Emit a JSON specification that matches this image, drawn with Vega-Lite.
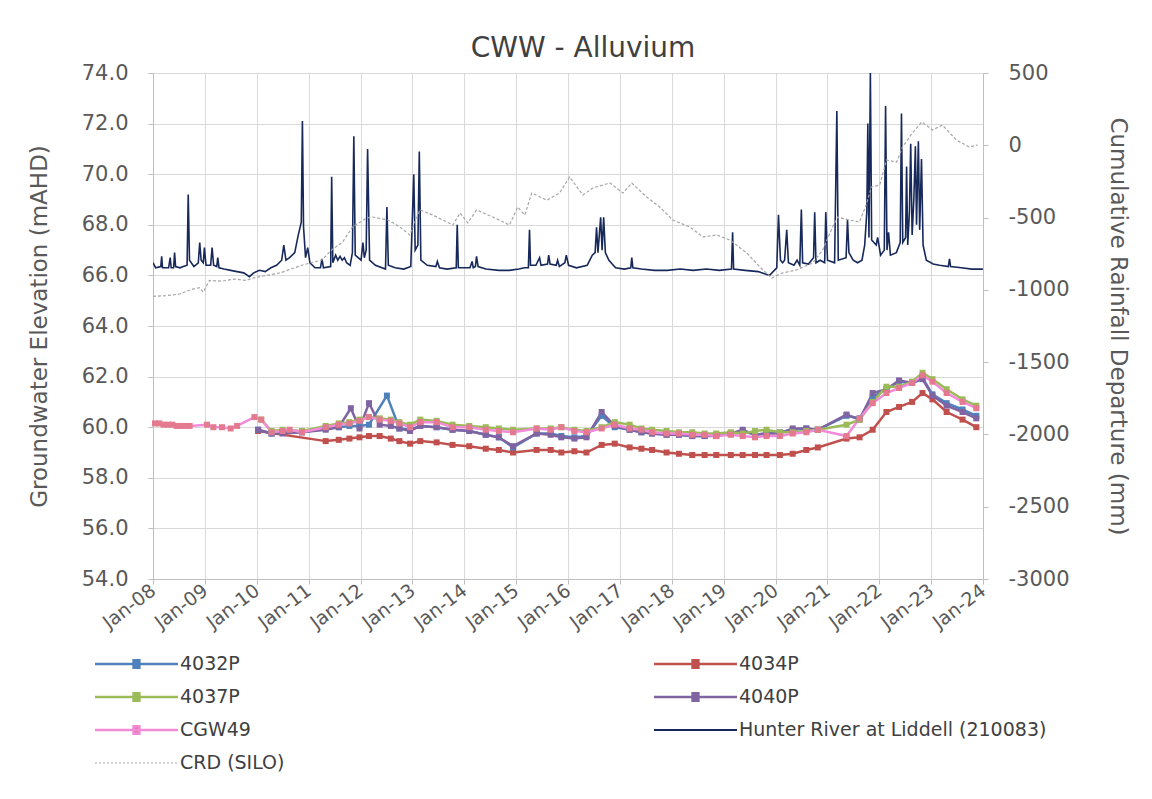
{
 "$schema": "https://vega.github.io/schema/vega-lite/v6.json",
 "width": 830,
 "height": 506,
 "autosize": {"type": "none"},
 "padding": {"left": 153, "top": 73, "right": 169, "bottom": 220},
 "background": "white",
 "title": {"text": "CWW - Alluvium", "font": "DejaVu Sans", "fontSize": 28, "fontWeight": "normal", "color": "#404040", "offset": -1, "dx": 15, "anchor": "middle"},
 "config": {
  "view": {"stroke": null},
  "axis": {"labelFont": "DejaVu Sans", "titleFont": "DejaVu Sans", "labelColor": "#595959", "titleColor": "#595959", "titleFontWeight": "normal", "domainColor": "#bfbfbf", "tickColor": "#bfbfbf", "gridColor": "#d9d9d9", "gridWidth": 1, "tickSize": 5}
 },
 "datasets": {
  "river": [
   {"series":"Hunter River at Liddell (210083)","date":"2008-01-01","value":66.5},
   {"series":"Hunter River at Liddell (210083)","date":"2008-01-20","value":66.3},
   {"series":"Hunter River at Liddell (210083)","date":"2008-02-25","value":66.35},
   {"series":"Hunter River at Liddell (210083)","date":"2008-03-02","value":66.75},
   {"series":"Hunter River at Liddell (210083)","date":"2008-03-08","value":66.3},
   {"series":"Hunter River at Liddell (210083)","date":"2008-04-20","value":66.3},
   {"series":"Hunter River at Liddell (210083)","date":"2008-05-01","value":66.7},
   {"series":"Hunter River at Liddell (210083)","date":"2008-05-08","value":66.3},
   {"series":"Hunter River at Liddell (210083)","date":"2008-05-25","value":66.3},
   {"series":"Hunter River at Liddell (210083)","date":"2008-06-01","value":66.9},
   {"series":"Hunter River at Liddell (210083)","date":"2008-06-08","value":66.35},
   {"series":"Hunter River at Liddell (210083)","date":"2008-07-10","value":66.3},
   {"series":"Hunter River at Liddell (210083)","date":"2008-08-01","value":66.35},
   {"series":"Hunter River at Liddell (210083)","date":"2008-08-28","value":66.4},
   {"series":"Hunter River at Liddell (210083)","date":"2008-09-05","value":69.2},
   {"series":"Hunter River at Liddell (210083)","date":"2008-09-14","value":66.6},
   {"series":"Hunter River at Liddell (210083)","date":"2008-10-15","value":66.35},
   {"series":"Hunter River at Liddell (210083)","date":"2008-11-15","value":66.5},
   {"series":"Hunter River at Liddell (210083)","date":"2008-11-25","value":67.3},
   {"series":"Hunter River at Liddell (210083)","date":"2008-12-05","value":66.6},
   {"series":"Hunter River at Liddell (210083)","date":"2008-12-20","value":66.5},
   {"series":"Hunter River at Liddell (210083)","date":"2008-12-28","value":67.1},
   {"series":"Hunter River at Liddell (210083)","date":"2009-01-08","value":66.4},
   {"series":"Hunter River at Liddell (210083)","date":"2009-02-10","value":66.4},
   {"series":"Hunter River at Liddell (210083)","date":"2009-02-20","value":67.1},
   {"series":"Hunter River at Liddell (210083)","date":"2009-03-03","value":66.4},
   {"series":"Hunter River at Liddell (210083)","date":"2009-03-25","value":66.35},
   {"series":"Hunter River at Liddell (210083)","date":"2009-04-01","value":66.7},
   {"series":"Hunter River at Liddell (210083)","date":"2009-04-10","value":66.3},
   {"series":"Hunter River at Liddell (210083)","date":"2009-05-15","value":66.25},
   {"series":"Hunter River at Liddell (210083)","date":"2009-07-01","value":66.2},
   {"series":"Hunter River at Liddell (210083)","date":"2009-08-15","value":66.15},
   {"series":"Hunter River at Liddell (210083)","date":"2009-10-01","value":66.1},
   {"series":"Hunter River at Liddell (210083)","date":"2009-11-10","value":65.95},
   {"series":"Hunter River at Liddell (210083)","date":"2009-12-10","value":66.1},
   {"series":"Hunter River at Liddell (210083)","date":"2010-01-20","value":66.2},
   {"series":"Hunter River at Liddell (210083)","date":"2010-03-01","value":66.15},
   {"series":"Hunter River at Liddell (210083)","date":"2010-04-10","value":66.3},
   {"series":"Hunter River at Liddell (210083)","date":"2010-05-20","value":66.4},
   {"series":"Hunter River at Liddell (210083)","date":"2010-06-25","value":66.6},
   {"series":"Hunter River at Liddell (210083)","date":"2010-07-10","value":67.2},
   {"series":"Hunter River at Liddell (210083)","date":"2010-07-25","value":66.6},
   {"series":"Hunter River at Liddell (210083)","date":"2010-08-20","value":66.7},
   {"series":"Hunter River at Liddell (210083)","date":"2010-09-25","value":66.9},
   {"series":"Hunter River at Liddell (210083)","date":"2010-10-20","value":67.6},
   {"series":"Hunter River at Liddell (210083)","date":"2010-11-10","value":68.1},
   {"series":"Hunter River at Liddell (210083)","date":"2010-11-18","value":72.1},
   {"series":"Hunter River at Liddell (210083)","date":"2010-11-26","value":67.9},
   {"series":"Hunter River at Liddell (210083)","date":"2010-12-10","value":66.7},
   {"series":"Hunter River at Liddell (210083)","date":"2010-12-25","value":67.1},
   {"series":"Hunter River at Liddell (210083)","date":"2011-01-10","value":66.5},
   {"series":"Hunter River at Liddell (210083)","date":"2011-02-15","value":66.3},
   {"series":"Hunter River at Liddell (210083)","date":"2011-03-25","value":66.3},
   {"series":"Hunter River at Liddell (210083)","date":"2011-04-05","value":66.65},
   {"series":"Hunter River at Liddell (210083)","date":"2011-04-15","value":66.3},
   {"series":"Hunter River at Liddell (210083)","date":"2011-06-05","value":66.35},
   {"series":"Hunter River at Liddell (210083)","date":"2011-06-12","value":69.9},
   {"series":"Hunter River at Liddell (210083)","date":"2011-06-20","value":66.5},
   {"series":"Hunter River at Liddell (210083)","date":"2011-07-10","value":66.8},
   {"series":"Hunter River at Liddell (210083)","date":"2011-07-25","value":66.6},
   {"series":"Hunter River at Liddell (210083)","date":"2011-08-10","value":66.75},
   {"series":"Hunter River at Liddell (210083)","date":"2011-08-25","value":66.6},
   {"series":"Hunter River at Liddell (210083)","date":"2011-09-10","value":66.7},
   {"series":"Hunter River at Liddell (210083)","date":"2011-09-25","value":66.5},
   {"series":"Hunter River at Liddell (210083)","date":"2011-10-20","value":66.4},
   {"series":"Hunter River at Liddell (210083)","date":"2011-11-05","value":66.9},
   {"series":"Hunter River at Liddell (210083)","date":"2011-11-15","value":71.5},
   {"series":"Hunter River at Liddell (210083)","date":"2011-11-25","value":66.8},
   {"series":"Hunter River at Liddell (210083)","date":"2012-01-05","value":66.6},
   {"series":"Hunter River at Liddell (210083)","date":"2012-01-18","value":67.3},
   {"series":"Hunter River at Liddell (210083)","date":"2012-01-28","value":66.7},
   {"series":"Hunter River at Liddell (210083)","date":"2012-02-10","value":67.0},
   {"series":"Hunter River at Liddell (210083)","date":"2012-02-20","value":71.0},
   {"series":"Hunter River at Liddell (210083)","date":"2012-03-05","value":66.6},
   {"series":"Hunter River at Liddell (210083)","date":"2012-04-15","value":66.4},
   {"series":"Hunter River at Liddell (210083)","date":"2012-06-25","value":66.25},
   {"series":"Hunter River at Liddell (210083)","date":"2012-07-05","value":68.7},
   {"series":"Hunter River at Liddell (210083)","date":"2012-07-15","value":66.4},
   {"series":"Hunter River at Liddell (210083)","date":"2012-09-01","value":66.3},
   {"series":"Hunter River at Liddell (210083)","date":"2012-11-01","value":66.25},
   {"series":"Hunter River at Liddell (210083)","date":"2012-12-20","value":66.35},
   {"series":"Hunter River at Liddell (210083)","date":"2013-01-10","value":70.0},
   {"series":"Hunter River at Liddell (210083)","date":"2013-01-20","value":67.0},
   {"series":"Hunter River at Liddell (210083)","date":"2013-02-08","value":67.2},
   {"series":"Hunter River at Liddell (210083)","date":"2013-02-18","value":70.9},
   {"series":"Hunter River at Liddell (210083)","date":"2013-03-01","value":66.6},
   {"series":"Hunter River at Liddell (210083)","date":"2013-04-15","value":66.4},
   {"series":"Hunter River at Liddell (210083)","date":"2013-06-15","value":66.35},
   {"series":"Hunter River at Liddell (210083)","date":"2013-06-25","value":66.55},
   {"series":"Hunter River at Liddell (210083)","date":"2013-07-10","value":66.3},
   {"series":"Hunter River at Liddell (210083)","date":"2013-09-01","value":66.25},
   {"series":"Hunter River at Liddell (210083)","date":"2013-11-05","value":66.3},
   {"series":"Hunter River at Liddell (210083)","date":"2013-11-12","value":68.0},
   {"series":"Hunter River at Liddell (210083)","date":"2013-11-20","value":66.3},
   {"series":"Hunter River at Liddell (210083)","date":"2014-02-10","value":66.3},
   {"series":"Hunter River at Liddell (210083)","date":"2014-02-25","value":66.55},
   {"series":"Hunter River at Liddell (210083)","date":"2014-03-05","value":66.3},
   {"series":"Hunter River at Liddell (210083)","date":"2014-03-20","value":66.35},
   {"series":"Hunter River at Liddell (210083)","date":"2014-03-28","value":66.75},
   {"series":"Hunter River at Liddell (210083)","date":"2014-04-08","value":66.35},
   {"series":"Hunter River at Liddell (210083)","date":"2014-06-01","value":66.25},
   {"series":"Hunter River at Liddell (210083)","date":"2014-09-01","value":66.2},
   {"series":"Hunter River at Liddell (210083)","date":"2014-11-15","value":66.2},
   {"series":"Hunter River at Liddell (210083)","date":"2015-01-20","value":66.25},
   {"series":"Hunter River at Liddell (210083)","date":"2015-03-01","value":66.3},
   {"series":"Hunter River at Liddell (210083)","date":"2015-03-28","value":66.3},
   {"series":"Hunter River at Liddell (210083)","date":"2015-04-05","value":67.8},
   {"series":"Hunter River at Liddell (210083)","date":"2015-04-12","value":66.4},
   {"series":"Hunter River at Liddell (210083)","date":"2015-05-20","value":66.4},
   {"series":"Hunter River at Liddell (210083)","date":"2015-06-15","value":66.7},
   {"series":"Hunter River at Liddell (210083)","date":"2015-06-25","value":66.4},
   {"series":"Hunter River at Liddell (210083)","date":"2015-08-10","value":66.45},
   {"series":"Hunter River at Liddell (210083)","date":"2015-08-18","value":66.8},
   {"series":"Hunter River at Liddell (210083)","date":"2015-08-28","value":66.45},
   {"series":"Hunter River at Liddell (210083)","date":"2015-10-10","value":66.4},
   {"series":"Hunter River at Liddell (210083)","date":"2015-10-20","value":66.6},
   {"series":"Hunter River at Liddell (210083)","date":"2015-11-01","value":66.35},
   {"series":"Hunter River at Liddell (210083)","date":"2015-12-10","value":66.5},
   {"series":"Hunter River at Liddell (210083)","date":"2015-12-20","value":66.8},
   {"series":"Hunter River at Liddell (210083)","date":"2016-01-05","value":66.4},
   {"series":"Hunter River at Liddell (210083)","date":"2016-03-01","value":66.3},
   {"series":"Hunter River at Liddell (210083)","date":"2016-05-15","value":66.4},
   {"series":"Hunter River at Liddell (210083)","date":"2016-06-20","value":66.8},
   {"series":"Hunter River at Liddell (210083)","date":"2016-07-10","value":66.9},
   {"series":"Hunter River at Liddell (210083)","date":"2016-07-20","value":67.9},
   {"series":"Hunter River at Liddell (210083)","date":"2016-07-30","value":66.9},
   {"series":"Hunter River at Liddell (210083)","date":"2016-08-18","value":68.3},
   {"series":"Hunter River at Liddell (210083)","date":"2016-08-28","value":67.0},
   {"series":"Hunter River at Liddell (210083)","date":"2016-09-08","value":68.3},
   {"series":"Hunter River at Liddell (210083)","date":"2016-09-20","value":66.9},
   {"series":"Hunter River at Liddell (210083)","date":"2016-10-15","value":66.6},
   {"series":"Hunter River at Liddell (210083)","date":"2016-12-01","value":66.3},
   {"series":"Hunter River at Liddell (210083)","date":"2017-02-01","value":66.25},
   {"series":"Hunter River at Liddell (210083)","date":"2017-03-18","value":66.3},
   {"series":"Hunter River at Liddell (210083)","date":"2017-03-25","value":66.7},
   {"series":"Hunter River at Liddell (210083)","date":"2017-04-02","value":66.3},
   {"series":"Hunter River at Liddell (210083)","date":"2017-06-01","value":66.25},
   {"series":"Hunter River at Liddell (210083)","date":"2017-09-01","value":66.2},
   {"series":"Hunter River at Liddell (210083)","date":"2017-12-01","value":66.2},
   {"series":"Hunter River at Liddell (210083)","date":"2018-03-01","value":66.25},
   {"series":"Hunter River at Liddell (210083)","date":"2018-06-01","value":66.2},
   {"series":"Hunter River at Liddell (210083)","date":"2018-09-01","value":66.25},
   {"series":"Hunter River at Liddell (210083)","date":"2018-12-01","value":66.2},
   {"series":"Hunter River at Liddell (210083)","date":"2019-02-25","value":66.25},
   {"series":"Hunter River at Liddell (210083)","date":"2019-03-05","value":67.7},
   {"series":"Hunter River at Liddell (210083)","date":"2019-03-12","value":66.25},
   {"series":"Hunter River at Liddell (210083)","date":"2019-06-01","value":66.2},
   {"series":"Hunter River at Liddell (210083)","date":"2019-09-01","value":66.15},
   {"series":"Hunter River at Liddell (210083)","date":"2019-11-20","value":66.0},
   {"series":"Hunter River at Liddell (210083)","date":"2020-01-10","value":66.3},
   {"series":"Hunter River at Liddell (210083)","date":"2020-01-22","value":68.4},
   {"series":"Hunter River at Liddell (210083)","date":"2020-02-05","value":66.6},
   {"series":"Hunter River at Liddell (210083)","date":"2020-02-20","value":66.5},
   {"series":"Hunter River at Liddell (210083)","date":"2020-03-05","value":66.6},
   {"series":"Hunter River at Liddell (210083)","date":"2020-03-20","value":67.8},
   {"series":"Hunter River at Liddell (210083)","date":"2020-04-01","value":66.5},
   {"series":"Hunter River at Liddell (210083)","date":"2020-05-10","value":66.4},
   {"series":"Hunter River at Liddell (210083)","date":"2020-06-01","value":66.6},
   {"series":"Hunter River at Liddell (210083)","date":"2020-06-20","value":66.4},
   {"series":"Hunter River at Liddell (210083)","date":"2020-07-01","value":68.6},
   {"series":"Hunter River at Liddell (210083)","date":"2020-07-10","value":66.5},
   {"series":"Hunter River at Liddell (210083)","date":"2020-08-20","value":66.45},
   {"series":"Hunter River at Liddell (210083)","date":"2020-09-25","value":66.7},
   {"series":"Hunter River at Liddell (210083)","date":"2020-10-03","value":68.5},
   {"series":"Hunter River at Liddell (210083)","date":"2020-10-12","value":66.5},
   {"series":"Hunter River at Liddell (210083)","date":"2020-11-10","value":66.6},
   {"series":"Hunter River at Liddell (210083)","date":"2020-12-12","value":66.5},
   {"series":"Hunter River at Liddell (210083)","date":"2020-12-20","value":68.5},
   {"series":"Hunter River at Liddell (210083)","date":"2021-01-01","value":66.6},
   {"series":"Hunter River at Liddell (210083)","date":"2021-02-20","value":66.5},
   {"series":"Hunter River at Liddell (210083)","date":"2021-03-08","value":72.5},
   {"series":"Hunter River at Liddell (210083)","date":"2021-03-18","value":66.6},
   {"series":"Hunter River at Liddell (210083)","date":"2021-05-12","value":66.7},
   {"series":"Hunter River at Liddell (210083)","date":"2021-05-22","value":68.2},
   {"series":"Hunter River at Liddell (210083)","date":"2021-06-01","value":66.9},
   {"series":"Hunter River at Liddell (210083)","date":"2021-07-01","value":66.6},
   {"series":"Hunter River at Liddell (210083)","date":"2021-08-01","value":66.5},
   {"series":"Hunter River at Liddell (210083)","date":"2021-09-01","value":66.6},
   {"series":"Hunter River at Liddell (210083)","date":"2021-09-20","value":67.2},
   {"series":"Hunter River at Liddell (210083)","date":"2021-10-05","value":68.5},
   {"series":"Hunter River at Liddell (210083)","date":"2021-10-12","value":72.0},
   {"series":"Hunter River at Liddell (210083)","date":"2021-10-20","value":67.5},
   {"series":"Hunter River at Liddell (210083)","date":"2021-10-30","value":74.0},
   {"series":"Hunter River at Liddell (210083)","date":"2021-11-08","value":67.4},
   {"series":"Hunter River at Liddell (210083)","date":"2021-12-10","value":67.2},
   {"series":"Hunter River at Liddell (210083)","date":"2021-12-20","value":67.5},
   {"series":"Hunter River at Liddell (210083)","date":"2022-01-10","value":66.8},
   {"series":"Hunter River at Liddell (210083)","date":"2022-02-05","value":67.0},
   {"series":"Hunter River at Liddell (210083)","date":"2022-02-14","value":72.7},
   {"series":"Hunter River at Liddell (210083)","date":"2022-02-24","value":67.0},
   {"series":"Hunter River at Liddell (210083)","date":"2022-03-07","value":67.7},
   {"series":"Hunter River at Liddell (210083)","date":"2022-03-20","value":66.8},
   {"series":"Hunter River at Liddell (210083)","date":"2022-05-01","value":66.9},
   {"series":"Hunter River at Liddell (210083)","date":"2022-05-28","value":67.3},
   {"series":"Hunter River at Liddell (210083)","date":"2022-06-06","value":72.4},
   {"series":"Hunter River at Liddell (210083)","date":"2022-06-15","value":67.3},
   {"series":"Hunter River at Liddell (210083)","date":"2022-07-05","value":67.5},
   {"series":"Hunter River at Liddell (210083)","date":"2022-07-12","value":70.3},
   {"series":"Hunter River at Liddell (210083)","date":"2022-07-20","value":67.2},
   {"series":"Hunter River at Liddell (210083)","date":"2022-08-01","value":68.5},
   {"series":"Hunter River at Liddell (210083)","date":"2022-08-10","value":71.2},
   {"series":"Hunter River at Liddell (210083)","date":"2022-08-20","value":67.6},
   {"series":"Hunter River at Liddell (210083)","date":"2022-09-01","value":69.0},
   {"series":"Hunter River at Liddell (210083)","date":"2022-09-12","value":71.1},
   {"series":"Hunter River at Liddell (210083)","date":"2022-09-20","value":68.0},
   {"series":"Hunter River at Liddell (210083)","date":"2022-10-03","value":71.3},
   {"series":"Hunter River at Liddell (210083)","date":"2022-10-12","value":67.8},
   {"series":"Hunter River at Liddell (210083)","date":"2022-10-25","value":70.6},
   {"series":"Hunter River at Liddell (210083)","date":"2022-11-05","value":67.2},
   {"series":"Hunter River at Liddell (210083)","date":"2022-11-28","value":66.6},
   {"series":"Hunter River at Liddell (210083)","date":"2023-01-15","value":66.45},
   {"series":"Hunter River at Liddell (210083)","date":"2023-03-01","value":66.4},
   {"series":"Hunter River at Liddell (210083)","date":"2023-05-02","value":66.35},
   {"series":"Hunter River at Liddell (210083)","date":"2023-05-10","value":66.65},
   {"series":"Hunter River at Liddell (210083)","date":"2023-05-18","value":66.35},
   {"series":"Hunter River at Liddell (210083)","date":"2023-08-01","value":66.3},
   {"series":"Hunter River at Liddell (210083)","date":"2023-10-15","value":66.25},
   {"series":"Hunter River at Liddell (210083)","date":"2023-12-31","value":66.25}
  ],
  "crd": [
   {"series":"CRD (SILO)","date":"2008-01-01","value":-1045},
   {"series":"CRD (SILO)","date":"2008-04-01","value":-1040},
   {"series":"CRD (SILO)","date":"2008-07-01","value":-1030},
   {"series":"CRD (SILO)","date":"2008-09-20","value":-1000},
   {"series":"CRD (SILO)","date":"2008-11-20","value":-985},
   {"series":"CRD (SILO)","date":"2008-12-20","value":-1015},
   {"series":"CRD (SILO)","date":"2009-02-01","value":-935},
   {"series":"CRD (SILO)","date":"2009-05-01","value":-940},
   {"series":"CRD (SILO)","date":"2009-08-01","value":-925},
   {"series":"CRD (SILO)","date":"2009-10-15","value":-935},
   {"series":"CRD (SILO)","date":"2009-12-05","value":-918},
   {"series":"CRD (SILO)","date":"2010-06-13","value":-883},
   {"series":"CRD (SILO)","date":"2010-11-20","value":-828},
   {"series":"CRD (SILO)","date":"2011-04-05","value":-793},
   {"series":"CRD (SILO)","date":"2011-06-12","value":-724},
   {"series":"CRD (SILO)","date":"2011-08-28","value":-669},
   {"series":"CRD (SILO)","date":"2011-11-06","value":-565},
   {"series":"CRD (SILO)","date":"2012-02-14","value":-503},
   {"series":"CRD (SILO)","date":"2012-03-28","value":-496},
   {"series":"CRD (SILO)","date":"2012-07-12","value":-517},
   {"series":"CRD (SILO)","date":"2012-10-04","value":-565},
   {"series":"CRD (SILO)","date":"2012-12-13","value":-620},
   {"series":"CRD (SILO)","date":"2013-02-22","value":-447},
   {"series":"CRD (SILO)","date":"2013-05-22","value":-482},
   {"series":"CRD (SILO)","date":"2013-10-12","value":-551},
   {"series":"CRD (SILO)","date":"2013-12-02","value":-468},
   {"series":"CRD (SILO)","date":"2014-01-26","value":-537},
   {"series":"CRD (SILO)","date":"2014-03-28","value":-447},
   {"series":"CRD (SILO)","date":"2014-07-20","value":-496},
   {"series":"CRD (SILO)","date":"2014-11-15","value":-551},
   {"series":"CRD (SILO)","date":"2015-01-12","value":-427},
   {"series":"CRD (SILO)","date":"2015-03-03","value":-482},
   {"series":"CRD (SILO)","date":"2015-04-20","value":-330},
   {"series":"CRD (SILO)","date":"2015-08-05","value":-380},
   {"series":"CRD (SILO)","date":"2015-11-03","value":-330},
   {"series":"CRD (SILO)","date":"2016-01-12","value":-219},
   {"series":"CRD (SILO)","date":"2016-04-15","value":-344},
   {"series":"CRD (SILO)","date":"2016-06-24","value":-295},
   {"series":"CRD (SILO)","date":"2016-10-22","value":-261},
   {"series":"CRD (SILO)","date":"2017-01-22","value":-330},
   {"series":"CRD (SILO)","date":"2017-03-25","value":-261},
   {"series":"CRD (SILO)","date":"2017-07-08","value":-358},
   {"series":"CRD (SILO)","date":"2017-10-08","value":-427},
   {"series":"CRD (SILO)","date":"2018-01-08","value":-517},
   {"series":"CRD (SILO)","date":"2018-05-08","value":-565},
   {"series":"CRD (SILO)","date":"2018-08-07","value":-634},
   {"series":"CRD (SILO)","date":"2018-11-13","value":-620},
   {"series":"CRD (SILO)","date":"2019-02-13","value":-655},
   {"series":"CRD (SILO)","date":"2019-06-13","value":-745},
   {"series":"CRD (SILO)","date":"2019-09-13","value":-842},
   {"series":"CRD (SILO)","date":"2019-12-05","value":-918},
   {"series":"CRD (SILO)","date":"2020-02-20","value":-883},
   {"series":"CRD (SILO)","date":"2020-05-29","value":-862},
   {"series":"CRD (SILO)","date":"2020-09-20","value":-814},
   {"series":"CRD (SILO)","date":"2020-11-28","value":-724},
   {"series":"CRD (SILO)","date":"2021-02-06","value":-565},
   {"series":"CRD (SILO)","date":"2021-03-14","value":-496},
   {"series":"CRD (SILO)","date":"2021-06-05","value":-517},
   {"series":"CRD (SILO)","date":"2021-08-15","value":-530},
   {"series":"CRD (SILO)","date":"2021-10-05","value":-399},
   {"series":"CRD (SILO)","date":"2021-11-06","value":-288},
   {"series":"CRD (SILO)","date":"2022-01-04","value":-275},
   {"series":"CRD (SILO)","date":"2022-02-20","value":-102},
   {"series":"CRD (SILO)","date":"2022-05-03","value":-116},
   {"series":"CRD (SILO)","date":"2022-06-13","value":-12},
   {"series":"CRD (SILO)","date":"2022-08-22","value":85},
   {"series":"CRD (SILO)","date":"2022-10-27","value":161},
   {"series":"CRD (SILO)","date":"2023-01-11","value":106},
   {"series":"CRD (SILO)","date":"2023-03-21","value":140},
   {"series":"CRD (SILO)","date":"2023-06-27","value":37},
   {"series":"CRD (SILO)","date":"2023-09-27","value":-12},
   {"series":"CRD (SILO)","date":"2023-11-24","value":2}
  ],
  "gw": [
   {"series":"4034P","date":"2010-01-10","value":59.85},
   {"series":"4034P","date":"2011-05-01","value":59.45},
   {"series":"4034P","date":"2011-08-01","value":59.5},
   {"series":"4034P","date":"2011-10-15","value":59.55},
   {"series":"4034P","date":"2011-12-25","value":59.6},
   {"series":"4034P","date":"2012-03-01","value":59.65},
   {"series":"4034P","date":"2012-05-15","value":59.65},
   {"series":"4034P","date":"2012-08-01","value":59.55},
   {"series":"4034P","date":"2012-10-01","value":59.45},
   {"series":"4034P","date":"2012-12-15","value":59.35},
   {"series":"4034P","date":"2013-02-25","value":59.45},
   {"series":"4034P","date":"2013-06-20","value":59.4},
   {"series":"4034P","date":"2013-10-10","value":59.3},
   {"series":"4034P","date":"2014-02-05","value":59.25},
   {"series":"4034P","date":"2014-06-01","value":59.15},
   {"series":"4034P","date":"2014-09-01","value":59.1},
   {"series":"4034P","date":"2014-12-10","value":59.0},
   {"series":"4034P","date":"2015-05-25","value":59.1},
   {"series":"4034P","date":"2015-09-01","value":59.1},
   {"series":"4034P","date":"2015-11-15","value":59.0},
   {"series":"4034P","date":"2016-02-15","value":59.05},
   {"series":"4034P","date":"2016-05-10","value":59.0},
   {"series":"4034P","date":"2016-08-25","value":59.3},
   {"series":"4034P","date":"2016-11-25","value":59.35},
   {"series":"4034P","date":"2017-03-10","value":59.2},
   {"series":"4034P","date":"2017-06-01","value":59.15},
   {"series":"4034P","date":"2017-08-15","value":59.1},
   {"series":"4034P","date":"2017-11-25","value":59.0},
   {"series":"4034P","date":"2018-02-20","value":58.95},
   {"series":"4034P","date":"2018-05-25","value":58.9},
   {"series":"4034P","date":"2018-08-20","value":58.9},
   {"series":"4034P","date":"2018-11-10","value":58.9},
   {"series":"4034P","date":"2019-02-20","value":58.9},
   {"series":"4034P","date":"2019-05-15","value":58.9},
   {"series":"4034P","date":"2019-08-10","value":58.9},
   {"series":"4034P","date":"2019-10-30","value":58.9},
   {"series":"4034P","date":"2020-02-01","value":58.9},
   {"series":"4034P","date":"2020-05-01","value":58.95},
   {"series":"4034P","date":"2020-08-05","value":59.1},
   {"series":"4034P","date":"2020-10-25","value":59.2},
   {"series":"4034P","date":"2021-05-15","value":59.55},
   {"series":"4034P","date":"2021-08-15","value":59.6},
   {"series":"4034P","date":"2021-11-15","value":59.9},
   {"series":"4034P","date":"2022-02-20","value":60.6},
   {"series":"4034P","date":"2022-05-20","value":60.8},
   {"series":"4034P","date":"2022-08-20","value":61.0},
   {"series":"4034P","date":"2022-11-01","value":61.35},
   {"series":"4034P","date":"2023-01-10","value":61.1},
   {"series":"4034P","date":"2023-04-20","value":60.6},
   {"series":"4034P","date":"2023-08-10","value":60.3},
   {"series":"4034P","date":"2023-11-15","value":60.0},
   {"series":"4032P","date":"2010-01-10","value":59.9},
   {"series":"4032P","date":"2010-04-15","value":59.75},
   {"series":"4032P","date":"2010-07-01","value":59.8},
   {"series":"4032P","date":"2010-11-15","value":59.8},
   {"series":"4032P","date":"2011-05-01","value":59.95},
   {"series":"4032P","date":"2011-08-01","value":60.0},
   {"series":"4032P","date":"2011-10-15","value":60.05},
   {"series":"4032P","date":"2011-12-25","value":60.05},
   {"series":"4032P","date":"2012-03-01","value":60.1},
   {"series":"4032P","date":"2012-07-05","value":61.25},
   {"series":"4032P","date":"2012-10-01","value":59.95},
   {"series":"4032P","date":"2012-12-15","value":59.9},
   {"series":"4032P","date":"2013-02-25","value":60.05},
   {"series":"4032P","date":"2013-06-20","value":60.0},
   {"series":"4032P","date":"2013-10-10","value":59.9},
   {"series":"4032P","date":"2014-02-05","value":59.85},
   {"series":"4032P","date":"2014-06-01","value":59.7},
   {"series":"4032P","date":"2014-09-01","value":59.6},
   {"series":"4032P","date":"2014-12-10","value":59.2},
   {"series":"4032P","date":"2015-05-25","value":59.75},
   {"series":"4032P","date":"2015-09-01","value":59.75},
   {"series":"4032P","date":"2015-11-15","value":59.65},
   {"series":"4032P","date":"2016-02-15","value":59.6},
   {"series":"4032P","date":"2016-05-10","value":59.65},
   {"series":"4032P","date":"2016-08-25","value":60.45},
   {"series":"4032P","date":"2016-11-25","value":60.0},
   {"series":"4032P","date":"2017-03-10","value":59.9},
   {"series":"4032P","date":"2017-06-01","value":59.8},
   {"series":"4032P","date":"2017-08-15","value":59.75},
   {"series":"4032P","date":"2017-11-25","value":59.7},
   {"series":"4032P","date":"2018-02-20","value":59.7},
   {"series":"4032P","date":"2018-05-25","value":59.65},
   {"series":"4032P","date":"2018-08-20","value":59.65},
   {"series":"4032P","date":"2018-11-10","value":59.7},
   {"series":"4032P","date":"2019-02-20","value":59.75},
   {"series":"4032P","date":"2019-05-15","value":59.85},
   {"series":"4032P","date":"2019-08-10","value":59.7},
   {"series":"4032P","date":"2019-10-30","value":59.75},
   {"series":"4032P","date":"2020-02-01","value":59.8},
   {"series":"4032P","date":"2020-05-01","value":59.9},
   {"series":"4032P","date":"2020-08-05","value":59.95},
   {"series":"4032P","date":"2020-10-25","value":59.9},
   {"series":"4032P","date":"2021-05-15","value":60.45},
   {"series":"4032P","date":"2021-08-15","value":60.35},
   {"series":"4032P","date":"2021-11-15","value":61.2},
   {"series":"4032P","date":"2022-02-20","value":61.5},
   {"series":"4032P","date":"2022-05-20","value":61.8},
   {"series":"4032P","date":"2022-08-20","value":61.75},
   {"series":"4032P","date":"2022-11-01","value":61.95},
   {"series":"4032P","date":"2023-01-10","value":61.3},
   {"series":"4032P","date":"2023-04-20","value":60.95},
   {"series":"4032P","date":"2023-08-10","value":60.7},
   {"series":"4032P","date":"2023-11-15","value":60.45},
   {"series":"4040P","date":"2010-01-10","value":59.9},
   {"series":"4040P","date":"2010-04-15","value":59.75},
   {"series":"4040P","date":"2010-07-01","value":59.75},
   {"series":"4040P","date":"2010-11-15","value":59.8},
   {"series":"4040P","date":"2011-05-01","value":59.9},
   {"series":"4040P","date":"2011-08-01","value":60.0},
   {"series":"4040P","date":"2011-10-25","value":60.75},
   {"series":"4040P","date":"2011-12-25","value":59.95},
   {"series":"4040P","date":"2012-03-01","value":60.95},
   {"series":"4040P","date":"2012-05-15","value":60.1},
   {"series":"4040P","date":"2012-08-01","value":60.05},
   {"series":"4040P","date":"2012-10-01","value":59.95},
   {"series":"4040P","date":"2012-12-15","value":59.85},
   {"series":"4040P","date":"2013-02-25","value":60.05},
   {"series":"4040P","date":"2013-06-20","value":60.0},
   {"series":"4040P","date":"2013-10-10","value":59.9},
   {"series":"4040P","date":"2014-02-05","value":59.85},
   {"series":"4040P","date":"2014-06-01","value":59.7},
   {"series":"4040P","date":"2014-09-01","value":59.6},
   {"series":"4040P","date":"2014-12-10","value":59.25},
   {"series":"4040P","date":"2015-05-25","value":59.75},
   {"series":"4040P","date":"2015-09-01","value":59.7},
   {"series":"4040P","date":"2015-11-15","value":59.6},
   {"series":"4040P","date":"2016-02-15","value":59.55},
   {"series":"4040P","date":"2016-05-10","value":59.6},
   {"series":"4040P","date":"2016-08-25","value":60.6},
   {"series":"4040P","date":"2016-11-25","value":60.05},
   {"series":"4040P","date":"2017-03-10","value":59.9},
   {"series":"4040P","date":"2017-06-01","value":59.8},
   {"series":"4040P","date":"2017-08-15","value":59.75},
   {"series":"4040P","date":"2017-11-25","value":59.7},
   {"series":"4040P","date":"2018-02-20","value":59.7},
   {"series":"4040P","date":"2018-05-25","value":59.65},
   {"series":"4040P","date":"2018-08-20","value":59.65},
   {"series":"4040P","date":"2018-11-10","value":59.65},
   {"series":"4040P","date":"2019-02-20","value":59.75},
   {"series":"4040P","date":"2019-05-15","value":59.9},
   {"series":"4040P","date":"2019-08-10","value":59.7},
   {"series":"4040P","date":"2019-10-30","value":59.75},
   {"series":"4040P","date":"2020-02-01","value":59.75},
   {"series":"4040P","date":"2020-05-01","value":59.95},
   {"series":"4040P","date":"2020-08-05","value":59.95},
   {"series":"4040P","date":"2020-10-25","value":59.9},
   {"series":"4040P","date":"2021-05-15","value":60.5},
   {"series":"4040P","date":"2021-08-15","value":60.3},
   {"series":"4040P","date":"2021-11-15","value":61.35},
   {"series":"4040P","date":"2022-02-20","value":61.5},
   {"series":"4040P","date":"2022-05-20","value":61.85},
   {"series":"4040P","date":"2022-08-20","value":61.75},
   {"series":"4040P","date":"2022-11-01","value":61.9},
   {"series":"4040P","date":"2023-01-10","value":61.25},
   {"series":"4040P","date":"2023-04-20","value":60.85},
   {"series":"4040P","date":"2023-08-10","value":60.6},
   {"series":"4040P","date":"2023-11-15","value":60.35},
   {"series":"4037P","date":"2010-02-01","value":60.3},
   {"series":"4037P","date":"2010-04-15","value":59.85},
   {"series":"4037P","date":"2010-07-01","value":59.9},
   {"series":"4037P","date":"2010-11-15","value":59.85},
   {"series":"4037P","date":"2011-05-01","value":60.05},
   {"series":"4037P","date":"2011-08-01","value":60.15},
   {"series":"4037P","date":"2011-10-15","value":60.2},
   {"series":"4037P","date":"2011-12-25","value":60.3},
   {"series":"4037P","date":"2012-03-01","value":60.4},
   {"series":"4037P","date":"2012-05-15","value":60.35},
   {"series":"4037P","date":"2012-08-01","value":60.3},
   {"series":"4037P","date":"2012-10-01","value":60.2},
   {"series":"4037P","date":"2012-12-15","value":60.1},
   {"series":"4037P","date":"2013-02-25","value":60.3},
   {"series":"4037P","date":"2013-06-20","value":60.25},
   {"series":"4037P","date":"2013-10-10","value":60.1},
   {"series":"4037P","date":"2014-02-05","value":60.05},
   {"series":"4037P","date":"2014-06-01","value":60.0},
   {"series":"4037P","date":"2014-09-01","value":59.95},
   {"series":"4037P","date":"2014-12-10","value":59.9},
   {"series":"4037P","date":"2015-05-25","value":59.95},
   {"series":"4037P","date":"2015-09-01","value":59.95},
   {"series":"4037P","date":"2015-11-15","value":60.0},
   {"series":"4037P","date":"2016-02-15","value":59.9},
   {"series":"4037P","date":"2016-05-10","value":59.85},
   {"series":"4037P","date":"2016-08-25","value":60.0},
   {"series":"4037P","date":"2016-11-25","value":60.2},
   {"series":"4037P","date":"2017-03-10","value":60.1},
   {"series":"4037P","date":"2017-06-01","value":59.95},
   {"series":"4037P","date":"2017-08-15","value":59.9},
   {"series":"4037P","date":"2017-11-25","value":59.85},
   {"series":"4037P","date":"2018-02-20","value":59.8},
   {"series":"4037P","date":"2018-05-25","value":59.8},
   {"series":"4037P","date":"2018-08-20","value":59.75},
   {"series":"4037P","date":"2018-11-10","value":59.75},
   {"series":"4037P","date":"2019-02-20","value":59.8},
   {"series":"4037P","date":"2019-05-15","value":59.75},
   {"series":"4037P","date":"2019-08-10","value":59.85},
   {"series":"4037P","date":"2019-10-30","value":59.9},
   {"series":"4037P","date":"2020-02-01","value":59.8},
   {"series":"4037P","date":"2020-05-01","value":59.8},
   {"series":"4037P","date":"2020-08-05","value":59.85},
   {"series":"4037P","date":"2020-10-25","value":59.9},
   {"series":"4037P","date":"2021-05-15","value":60.1},
   {"series":"4037P","date":"2021-08-15","value":60.3},
   {"series":"4037P","date":"2021-11-15","value":61.0},
   {"series":"4037P","date":"2022-02-20","value":61.6},
   {"series":"4037P","date":"2022-05-20","value":61.6},
   {"series":"4037P","date":"2022-08-20","value":61.8},
   {"series":"4037P","date":"2022-11-01","value":62.15},
   {"series":"4037P","date":"2023-01-10","value":61.9},
   {"series":"4037P","date":"2023-04-20","value":61.5},
   {"series":"4037P","date":"2023-08-10","value":61.1},
   {"series":"4037P","date":"2023-11-15","value":60.85},
   {"series":"CGW49","date":"2008-01-15","value":60.15},
   {"series":"CGW49","date":"2008-02-15","value":60.15},
   {"series":"CGW49","date":"2008-03-15","value":60.1},
   {"series":"CGW49","date":"2008-04-15","value":60.1},
   {"series":"CGW49","date":"2008-05-15","value":60.1},
   {"series":"CGW49","date":"2008-06-15","value":60.05},
   {"series":"CGW49","date":"2008-07-15","value":60.05},
   {"series":"CGW49","date":"2008-08-15","value":60.05},
   {"series":"CGW49","date":"2008-09-15","value":60.05},
   {"series":"CGW49","date":"2009-01-15","value":60.1},
   {"series":"CGW49","date":"2009-03-01","value":60.0},
   {"series":"CGW49","date":"2009-05-01","value":60.0},
   {"series":"CGW49","date":"2009-07-01","value":59.95},
   {"series":"CGW49","date":"2009-08-15","value":60.05},
   {"series":"CGW49","date":"2009-12-15","value":60.4},
   {"series":"CGW49","date":"2010-02-01","value":60.3},
   {"series":"CGW49","date":"2010-04-15","value":59.8},
   {"series":"CGW49","date":"2010-07-01","value":59.85},
   {"series":"CGW49","date":"2010-08-20","value":59.9},
   {"series":"CGW49","date":"2010-11-15","value":59.8},
   {"series":"CGW49","date":"2011-05-01","value":60.0},
   {"series":"CGW49","date":"2011-08-01","value":60.1},
   {"series":"CGW49","date":"2011-10-15","value":60.15},
   {"series":"CGW49","date":"2011-12-25","value":60.25},
   {"series":"CGW49","date":"2012-03-01","value":60.4},
   {"series":"CGW49","date":"2012-05-15","value":60.3},
   {"series":"CGW49","date":"2012-08-01","value":60.25},
   {"series":"CGW49","date":"2012-10-01","value":60.15},
   {"series":"CGW49","date":"2012-12-15","value":60.0},
   {"series":"CGW49","date":"2013-02-25","value":60.2},
   {"series":"CGW49","date":"2013-06-20","value":60.2},
   {"series":"CGW49","date":"2013-10-10","value":60.0},
   {"series":"CGW49","date":"2014-02-05","value":60.0},
   {"series":"CGW49","date":"2014-06-01","value":59.9},
   {"series":"CGW49","date":"2014-09-01","value":59.85},
   {"series":"CGW49","date":"2014-12-10","value":59.8},
   {"series":"CGW49","date":"2015-05-25","value":59.95},
   {"series":"CGW49","date":"2015-09-01","value":59.9},
   {"series":"CGW49","date":"2015-11-15","value":60.0},
   {"series":"CGW49","date":"2016-02-15","value":59.85},
   {"series":"CGW49","date":"2016-05-10","value":59.8},
   {"series":"CGW49","date":"2016-08-25","value":59.95},
   {"series":"CGW49","date":"2016-11-25","value":60.1},
   {"series":"CGW49","date":"2017-03-10","value":59.95},
   {"series":"CGW49","date":"2017-06-01","value":59.9},
   {"series":"CGW49","date":"2017-08-15","value":59.8},
   {"series":"CGW49","date":"2017-11-25","value":59.75},
   {"series":"CGW49","date":"2018-02-20","value":59.75},
   {"series":"CGW49","date":"2018-05-25","value":59.7},
   {"series":"CGW49","date":"2018-08-20","value":59.7},
   {"series":"CGW49","date":"2018-11-10","value":59.65},
   {"series":"CGW49","date":"2019-02-20","value":59.7},
   {"series":"CGW49","date":"2019-05-15","value":59.65},
   {"series":"CGW49","date":"2019-08-10","value":59.6},
   {"series":"CGW49","date":"2019-10-30","value":59.65},
   {"series":"CGW49","date":"2020-02-01","value":59.65},
   {"series":"CGW49","date":"2020-05-01","value":59.75},
   {"series":"CGW49","date":"2020-08-05","value":59.8},
   {"series":"CGW49","date":"2020-10-25","value":59.9},
   {"series":"CGW49","date":"2021-05-15","value":59.65},
   {"series":"CGW49","date":"2021-08-15","value":60.35},
   {"series":"CGW49","date":"2021-11-15","value":60.95},
   {"series":"CGW49","date":"2022-02-20","value":61.35},
   {"series":"CGW49","date":"2022-05-20","value":61.55},
   {"series":"CGW49","date":"2022-08-20","value":61.75},
   {"series":"CGW49","date":"2022-11-01","value":62.05},
   {"series":"CGW49","date":"2023-01-10","value":61.8},
   {"series":"CGW49","date":"2023-04-20","value":61.35},
   {"series":"CGW49","date":"2023-08-10","value":61.0},
   {"series":"CGW49","date":"2023-11-15","value":60.75}
  ]
 },
 "encoding": {
  "x": {
   "field": "date", "type": "temporal",
   "scale": {"type": "utc", "domain": [{"year": 2008, "month": 1, "date": 1, "utc": true}, {"year": 2024, "month": 1, "date": 1, "utc": true}]},
   "axis": {"title": null, "format": "%b-%y", "tickCount": {"interval": "year", "step": 1}, "labelAngle": -37, "labelAlign": "right", "labelBaseline": "middle", "labelFontSize": 19, "labelPadding": 4, "grid": true, "labelOverlap": false, "labelFlush": false}
  }
 },
 "layer": [
  {
   "encoding": {
    "y": {"field": "value", "type": "quantitative",
     "scale": {"domain": [54, 74], "nice": false, "zero": false},
     "axis": {"title": "Groundwater Elevation (mAHD)", "titleFontSize": 23, "values": [54,56,58,60,62,64,66,68,70,72,74], "format": ".1f", "labelFontSize": 21, "labelPadding": 20, "grid": true, "titlePadding": 30}}
   },
   "layer": [
    {
     "data": {"name": "river"},
     "mark": {"type": "line", "strokeWidth": 1.6, "clip": true},
     "encoding": {
      "color": {"field": "series", "type": "nominal",
       "scale": {"domain": ["4032P","4034P","4037P","4040P","CGW49","Hunter River at Liddell (210083)","CRD (SILO)"], "range": ["#4f81bd","#c0504d","#9bbb59","#8064a2","#f28ad7","#17285a","#a6a6a6"]},
       "legend": {
        "orient": "none", "direction": "horizontal", "legendX": -60, "legendY": 581, "columns": 2, "columnPadding": 367, "rowPadding": 13, "padding": 0,
        "title": null, "labelFont": "DejaVu Sans", "labelFontSize": 19, "labelColor": "#404040", "labelOffset": 34, "labelLimit": 500,
        "clipHeight": 20, "symbolSize": 6889, "symbolStrokeWidth": 2.5, "symbolOffset": 34,
        "symbolType": "M-1,0H1M-0.07,-0.09H0.07V0.09H-0.07Z",
        "encode": {"symbols": {"update": {
         "shape": {"signal": "datum.value === 'Hunter River at Liddell (210083)' || datum.value === 'CRD (SILO)' ? 'M-1,0H1' : 'M-1,0H1M-0.07,-0.09H0.07V0.09H-0.07Z'"},
         "strokeDash": {"signal": "datum.value === 'CRD (SILO)' ? [2,2] : [1,0]"},
         "strokeWidth": {"signal": "datum.value === 'CRD (SILO)' ? 1.2 : datum.value === 'Hunter River at Liddell (210083)' ? 1.8 : 2.5"},
         "fill": {"signal": "datum.value === '4032P' ? '#4f81bd' : datum.value === '4034P' ? '#c0504d' : datum.value === '4037P' ? '#9bbb59' : datum.value === '4040P' ? '#8064a2' : datum.value === 'CGW49' ? '#e47a8f' : 'transparent'"}
        }}}
       }
      }
     }
    },
    {
     "data": {"name": "gw"},
     "mark": {"type": "line", "strokeWidth": 2.5},
     "encoding": {"color": {"field": "series", "type": "nominal"}}
    },
    {
     "data": {"name": "gw"},
     "mark": {"type": "square", "size": 36, "filled": true, "opacity": 1},
     "encoding": {"fill": {"field": "series", "type": "nominal", "scale": {"domain": ["4032P","4034P","4037P","4040P","CGW49"], "range": ["#4f81bd","#c0504d","#9bbb59","#8064a2","#e47a8f"]}, "legend": null}}
    }
   ]
  },
  {
   "data": {"name": "crd"},
   "mark": {"type": "line", "strokeWidth": 1.2, "strokeDash": [3, 2]},
   "encoding": {
    "y": {"field": "value", "type": "quantitative",
     "scale": {"domain": [-3000, 500], "nice": false, "zero": false},
     "axis": {"orient": "right", "title": "Cumulative Rainfall Departure (mm)", "titleFontSize": 23, "values": [-3000,-2500,-2000,-1500,-1000,-500,0,500], "format": "d", "labelExpr": "replace(datum.label, '\u2212', '-')", "labelFontSize": 21, "labelPadding": 20, "grid": false, "titlePadding": 36}},
    "color": {"field": "series", "type": "nominal"}
   }
  }
 ],
 "resolve": {"scale": {"y": "independent"}}
}
